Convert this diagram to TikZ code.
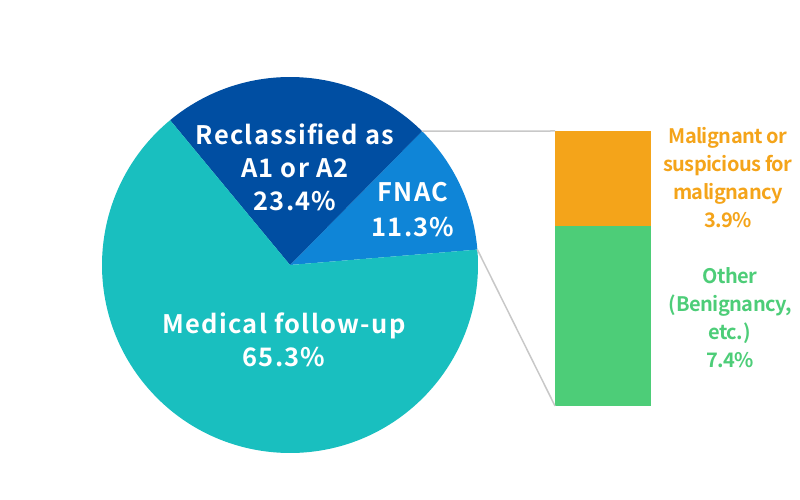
\documentclass[tikz,border=0pt]{standalone}
\usepackage{fontspec}
\setmainfont{Noto Sans CJK JP}
\newfontfamily\piefont{Noto Sans CJK JP Bold}[LetterSpace=5]
\newfontfamily\barfont{Noto Sans CJK JP Bold}[LetterSpace=-3]
\usetikzlibrary{calc}

\definecolor{recblue}{HTML}{004EA2}
\definecolor{fnacblue}{HTML}{0F85D7}
\definecolor{medteal}{HTML}{19BFBF}
\definecolor{malorange}{HTML}{F4A41A}
\definecolor{othgreen}{HTML}{4DCD78}
\definecolor{linkgray}{HTML}{C8C8C8}

\begin{document}
\begin{tikzpicture}[x=1pt, y=1pt,
		pielabel/.style={text=white, font=\piefont\fontsize{25.5}{33}\selectfont, align=center, inner sep=0pt},
		barlabel/.style={font=\barfont\fontsize{20}{28}\selectfont, align=center, inner sep=0pt},
		link/.style={linkgray, line width=1.5pt}]
		
		\useasboundingbox (0,0) rectangle (800,500);
		
		% Pie
		\coordinate (c) at (290,235);
		\fill[fnacblue] (c) -- ++(4.7:188) arc (4.7:45.38:188) -- cycle;
		\fill[recblue] (c) -- ++(45.38:188) arc (45.38:129.62:188) -- cycle;
		\fill[medteal] (c) -- ++(129.62:188) arc (129.62:364.7:188) -- cycle;
		\coordinate (fnactop) at ($(c)+(45.38:188)$);
		\coordinate (fnacbot) at ($(c)+(4.7:188)$);
		
		% Bar
		\fill[othgreen] (555,94) rectangle (651,274);
		\fill[malorange] (555,274) rectangle (651,369);
		\coordinate (bartop) at (555,369);
		\coordinate (barbot) at (555,94);
		
		% Links
		\draw[link] (fnactop) -- (bartop);
		\draw[link] (fnacbot) -- (barbot);
		
		% Labels
		\node[pielabel] (rec) at (295,333) {Reclassified as\\A1 or A2\\23.4\%};
		\node[pielabel, font=\piefont\fontsize{25.5}{35}\selectfont] (fnac) at (413,290) {FNAC\\11.3\%};
		\node[pielabel] (med) at (284,160.5) {Medical follow-up\\65.3\%};
		\node[barlabel, text=malorange] (mal) at (728,322.5) {Malignant or\\suspicious for\\malignancy\\3.9\%};
		\node[barlabel, text=othgreen] (oth) at (730,182.5) {Other\\(\kern0.5pt Benignancy,\\etc.\kern0.5pt)\\7.4\%};
		
	\end{tikzpicture}
\end{document}
